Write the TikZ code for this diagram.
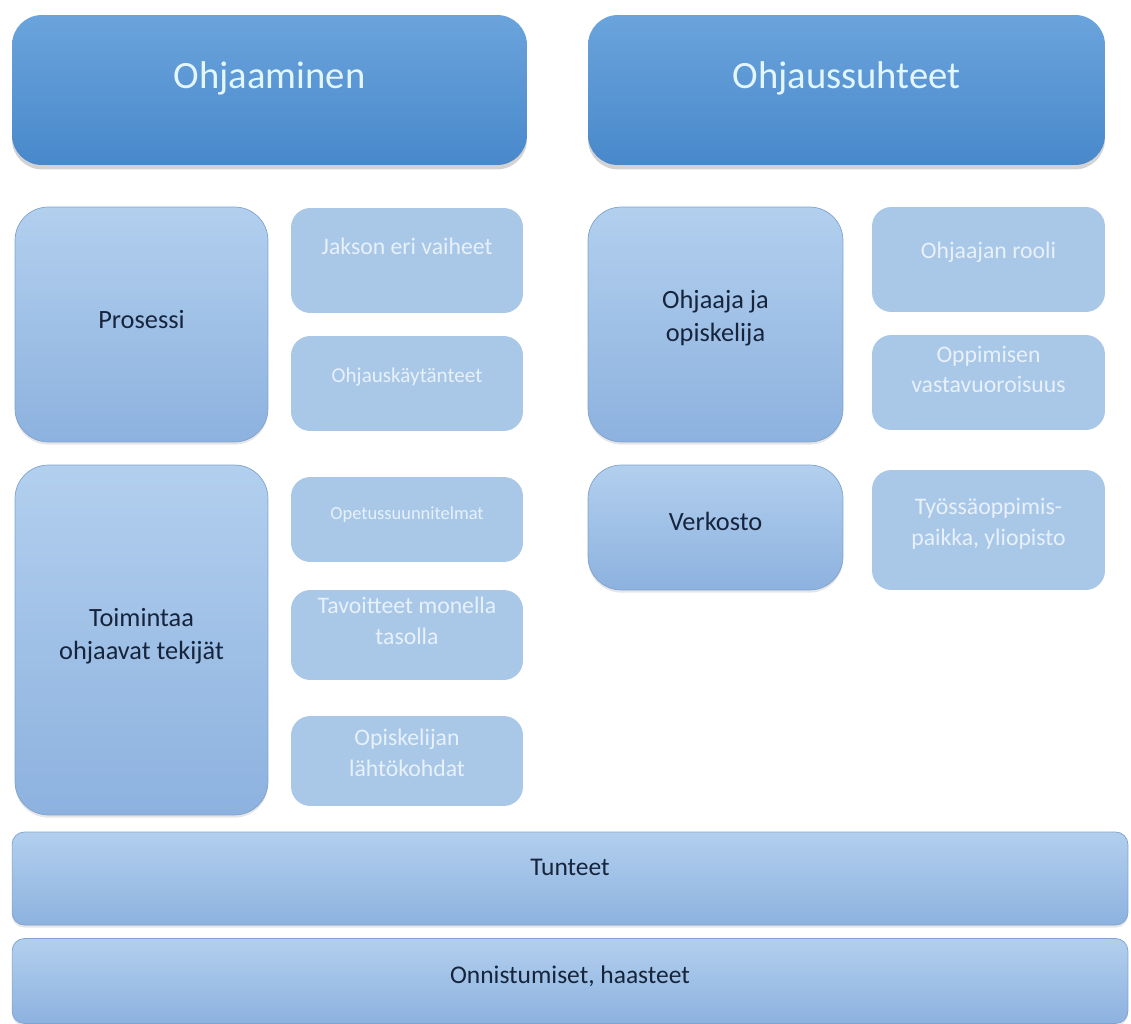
\documentclass[tikz,border=0pt]{standalone}
\usepackage{fontspec}
\setmainfont{Carlito}
\usepackage{xcolor}
\usetikzlibrary{shadows}

\definecolor{topA}{HTML}{6BA4DC}
\definecolor{topB}{HTML}{4888CB}
\definecolor{midA}{HTML}{B2CFEE}
\definecolor{midB}{HTML}{8DB2DF}
\definecolor{midline}{HTML}{7FA3CF}
\definecolor{midtext}{HTML}{16243C}
\definecolor{subfill}{HTML}{A9C8E8}
\definecolor{subtext}{HTML}{E8F1FA}
\definecolor{toptext}{HTML}{E2F6FB}

\tikzset{
  topbox/.style={rounded corners=17pt, top color=topA, bottom color=topB, draw=none,
    text=toptext, align=center, inner sep=0pt,
    drop shadow={opacity=0.35, shadow xshift=0pt, shadow yshift=-2.5pt},
    font=\fontsize{22}{26}\selectfont},
  midbox/.style={rounded corners=19pt, top color=midA, bottom color=midB, draw=midline,
    text=midtext, align=center, inner sep=0pt,
    drop shadow={opacity=0.2, shadow xshift=0pt, shadow yshift=-1.5pt},
    font=\fontsize{15}{19}\selectfont},
  subbox/.style={rounded corners=11pt, fill=subfill, draw=none,
    text=subtext, align=center, inner sep=0pt,
    font=\fontsize{13.5}{17.5}\selectfont},
  barbox/.style={rounded corners=7pt, top color=midA, bottom color=midB, draw=midline,
    text=midtext, align=center, inner sep=0pt,
    drop shadow={opacity=0.2, shadow xshift=0pt, shadow yshift=-1.5pt},
    font=\fontsize{14.5}{18}\selectfont},
  lift/.style={text depth=#1}
}

\begin{document}
\begin{tikzpicture}[x=0.02cm, y=-0.02cm]
\useasboundingbox (0,0) rectangle (1131,1023);

% otsikot
\node[topbox, lift=17pt, minimum width=10.3cm, minimum height=3cm] (ohj) at (269.5,90) {Ohjaaminen};
\node[topbox, lift=17pt, minimum width=10.34cm, minimum height=3cm] (suht) at (846.5,90) {Ohjaussuhteet};

% vasen puoli
\node[midbox, lift=6pt, minimum width=5.06cm, minimum height=4.7cm] (pros) at (141.5,324.5) {Prosessi};
\node[subbox, lift=16pt, minimum width=4.64cm, minimum height=2.1cm] (jakso) at (407,260.5) {Jakson eri vaiheet};
\node[subbox, lift=10pt, minimum width=4.64cm, minimum height=1.9cm, font=\fontsize{12}{15}\selectfont] (kayt) at (407,383.5) {Ohjauskäytänteet};

\node[midbox, lift=7pt, minimum width=5.06cm, minimum height=7cm] (toim) at (141.5,640) {Toimintaa\\ohjaavat tekijät};
\node[subbox, lift=7pt, minimum width=4.64cm, minimum height=1.7cm, font=\fontsize{10.5}{13}\selectfont] (ops) at (407,519.5) {Opetussuunnitelmat};
\node[subbox, lift=16pt, minimum width=4.64cm, minimum height=1.8cm] (tav) at (407,635) {Tavoitteet monella\\tasolla};
\node[subbox, lift=9pt, minimum width=4.64cm, minimum height=1.8cm] (lahto) at (407,761) {Opiskelijan\\lähtökohdat};

% oikea puoli
\node[midbox, lift=10pt, minimum width=5.1cm, minimum height=4.7cm] (ohjop) at (715.5,324.5) {Ohjaaja ja\\opiskelija};
\node[subbox, lift=11pt, minimum width=4.66cm, minimum height=2.1cm] (rooli) at (988.5,259.5) {Ohjaajan rooli};
\node[subbox, lift=15pt, minimum width=4.66cm, minimum height=1.9cm] (vasta) at (988.5,382.5) {Oppimisen\\vastavuoroisuus};
\node[midbox, lift=7pt, minimum width=5.1cm, minimum height=2.5cm] (verk) at (715.5,527.5) {Verkosto};
\node[subbox, lift=9pt, minimum width=4.66cm, minimum height=2.4cm] (tyo) at (988.5,530) {Työssäoppimis-\\paikka, yliopisto};

% alapalkit
\node[barbox, lift=12.5pt, minimum width=22.32cm, minimum height=1.86cm] (tunt) at (570,878.5) {Tunteet};
\node[barbox, lift=7pt, minimum width=22.32cm, minimum height=1.7cm] (onn) at (570,981) {Onnistumiset, haasteet};
\end{tikzpicture}
\end{document}
